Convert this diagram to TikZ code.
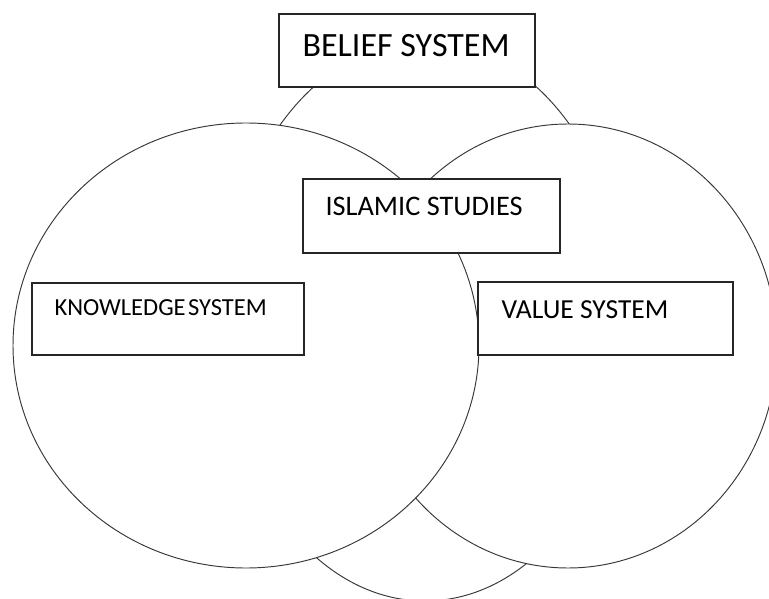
\documentclass[tikz,border=0pt]{standalone}
\usepackage{fontspec}
\setmainfont{Carlito}
\usetikzlibrary{shapes.geometric,calc}
\begin{document}
\begin{tikzpicture}[x=1pt,y=-1pt,
  ring/.style={ellipse, draw=black!78, line width=0.95pt, fill=white, inner sep=0pt},
  box/.style={rectangle, draw=black!85, line width=1.2pt, fill=white, inner sep=0pt},
  lbl/.style={anchor=base west, inner sep=0pt, text=black}]
\useasboundingbox (0,0) rectangle (769,599);
\clip (0,0) rectangle (769,599);
% circles (back to front)
\node[ring, minimum width=406pt, minimum height=560pt] (belief) at (425,321) {};
\node[ring, minimum width=418pt, minimum height=444pt] (value) at (568,346) {};
\node[ring, minimum width=466pt, minimum height=445pt] (knowledge) at (246,345.5) {};
% boxes
\node[box, minimum width=256pt, minimum height=73pt] (bbox) at (407,50.5) {};
\node[box, minimum width=257pt, minimum height=74pt] (ibox) at (431.5,216) {};
\node[box, minimum width=272pt, minimum height=72pt] (kbox) at (168,319) {};
\node[box, minimum width=255pt, minimum height=73pt] (vbox) at (605.5,318.5) {};
% labels
\node[lbl, font=\fontsize{34}{40}\selectfont] (btext) at ($(bbox.north west)+(24,43)$) {BELIEF SYSTEM};
\node[lbl, font=\fontsize{28.3}{34}\selectfont] (itext) at ($(ibox.north west)+(23,37)$) {ISLAMIC STUDIES};
\node[lbl, font=\fontsize{24.5}{29}\selectfont] (ktext) at ($(kbox.north west)+(23,33)$) {KNOWLEDGE\hspace{0.1em}SYSTEM};
\node[lbl, font=\fontsize{27.5}{33}\selectfont] (vtext) at ($(vbox.north west)+(24,37)$) {VALUE SYSTEM};
\end{tikzpicture}
\end{document}
